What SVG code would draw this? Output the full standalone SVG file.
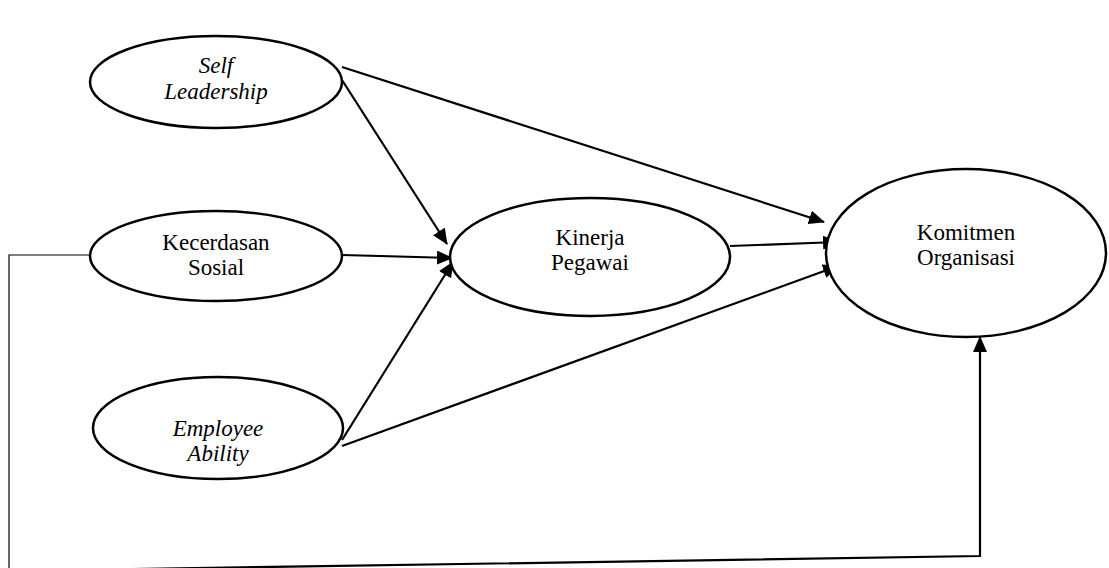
<svg xmlns="http://www.w3.org/2000/svg" width="1109" height="568" viewBox="0 0 1109 568">
<style>
.n{fill:#fff;stroke:#000;stroke-width:2.5}
.t{font-family:"Liberation Serif",serif;font-size:23px;fill:#000;text-anchor:middle}
.i{font-style:italic}
.c{fill:none;stroke:#000;stroke-width:2.2}
</style>
<defs>
<marker id="b" markerWidth="16" markerHeight="14" refX="15" refY="7" orient="auto" markerUnits="userSpaceOnUse" viewBox="0 0 16 14">
<path d="M0,0 L16,7 L0,14 Z" fill="#000"/>
</marker>
</defs>
<rect width="1109" height="568" fill="#fff"/>
<g id="connectors">
<line class="c" x1="342" y1="67" x2="824" y2="222" marker-end="url(#b)"/>
<line class="c" x1="342" y1="80" x2="447" y2="244" marker-end="url(#b)"/>
<line class="c" x1="342" y1="255" x2="452" y2="258" marker-end="url(#b)"/>
<line class="c" x1="342" y1="440" x2="453" y2="262" marker-end="url(#b)"/>
<line class="c" x1="342" y1="446" x2="838" y2="266" marker-end="url(#b)"/>
<line class="c" x1="730" y1="246" x2="838" y2="242" marker-end="url(#b)"/>
<polyline fill="none" stroke="#000" stroke-width="1.2" points="90,255 9,255 9,572"/>
<polyline class="c" points="9,571 980,556 980,337" marker-end="url(#b)"/>
</g>
<g id="self-leadership">
<ellipse class="n" cx="216" cy="82" rx="126" ry="46"/>
<text class="t i" x="216" y="73">Self</text>
<text class="t i" x="216" y="99">Leadership</text>
</g>
<g id="kecerdasan-sosial">
<ellipse class="n" cx="216" cy="256" rx="126" ry="45"/>
<text class="t" x="216" y="250">Kecerdasan</text>
<text class="t" x="216" y="275">Sosial</text>
</g>
<g id="employee-ability">
<ellipse class="n" cx="218" cy="428" rx="125" ry="51"/>
<text class="t i" x="218" y="436">Employee</text>
<text class="t i" x="218" y="461">Ability</text>
</g>
<g id="kinerja-pegawai">
<ellipse class="n" cx="590" cy="257" rx="140" ry="59"/>
<text class="t" x="590" y="245">Kinerja</text>
<text class="t" x="590" y="270">Pegawai</text>
</g>
<g id="komitmen-organisasi">
<ellipse class="n" cx="966" cy="253" rx="140" ry="84"/>
<text class="t" x="966" y="240">Komitmen</text>
<text class="t" x="966" y="265">Organisasi</text>
</g>
</svg>
